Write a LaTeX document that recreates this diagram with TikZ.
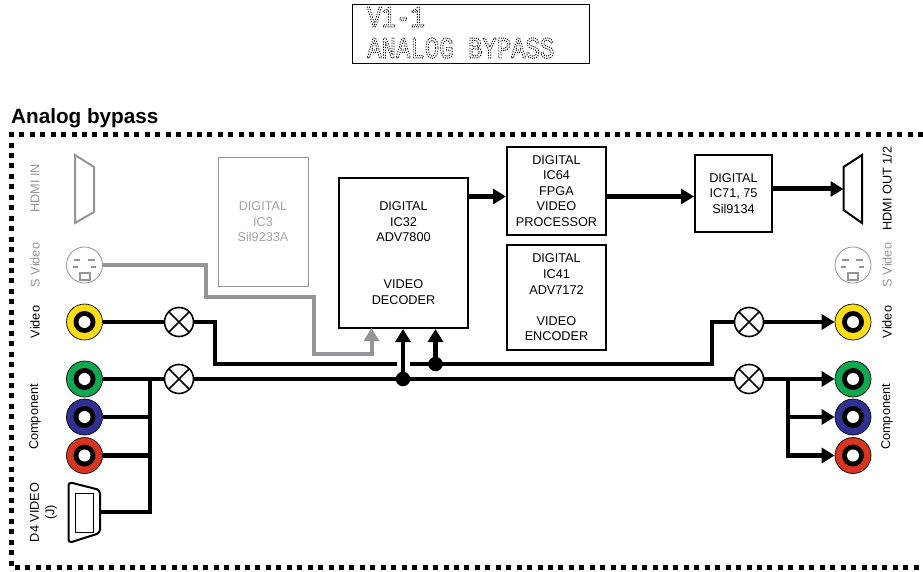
\documentclass[tikz,border=0pt]{standalone}
\usepackage{fontspec}
\usepackage{xcolor}
\usepackage{tikz}
\usetikzlibrary{arrows.meta}
\setmainfont{Liberation Sans}
\newfontfamily\lcdfont{Liberation Mono}
\definecolor{offgray}{HTML}{939598}
\definecolor{jackyellow}{HTML}{FFDD15}
\definecolor{jackgreen}{HTML}{0DA84F}
\definecolor{jackblue}{HTML}{2E3192}
\definecolor{jackred}{HTML}{D9341F}
\tikzset{
  boxtext/.style={font=\fontsize{12.7}{15.6}\selectfont,align=center},
  block/.style={draw,line width=2,boxtext,inner sep=0},
  offblock/.style={draw=offgray,line width=1,boxtext,text=offgray!85,inner sep=0},
  sideLabel/.style={rotate=90,boxtext},
  lcdline/.style={anchor=base west,inner sep=0,yscale=1.25,font=\lcdfont\fontsize{24}{24}\selectfont},
  sigline/.style={line width=4.3},
  sigarrow/.style={line width=4.3,-{Triangle[length=13,width=15]}},
  offarrow/.style={line width=4,draw=offgray,-{Triangle[length=13,width=15,fill=offgray]}},
  joint/.style={circle,fill=black,inner sep=0,minimum size=14.5},
  xing/.style={circle,draw,line width=1.6,fill=white,inner sep=0,minimum size=29,
    path picture={\draw[line width=1.6] (path picture bounding box.north west)--(path picture bounding box.south east)
      (path picture bounding box.north east)--(path picture bounding box.south west);}},
}
\newcommand{\lcdtext}[1]{\special{pdf:literal q 1 Tr 0.8 w [1 1.1] 0 d 0 G}#1\special{pdf:literal Q}}
\newcommand{\jack}[4]{%
  \node[circle,draw,line width=0.7,fill=#4,inner sep=0,minimum size=36] (#1) at (#2,#3) {};
  \node[circle,fill=black,inner sep=0,minimum size=22] at (#2,#3) {};
  \node[circle,fill=white,inner sep=0,minimum size=12] at (#2,#3) {};
}
\newcommand{\svideo}[3]{%
  \node[circle,draw=offgray,line width=0.8,inner sep=0,minimum size=36] (#1) at (#2,#3) {};
  \begin{scope}[shift={(#2,#3)},draw=offgray,line width=2]
    \draw (-11,-5)--(-4.5,-5);
    \draw (3,-5)--(10,-5);
    \draw (-12,2)--(-7,2);
    \draw (6,2)--(11,2);
    \draw (-5,7.5) rectangle (5,15);
  \end{scope}
}
\begin{document}
\begin{tikzpicture}[x=1pt,y=-1pt]
  \useasboundingbox (0,0) rectangle (923,572);
  % front panel display
  \node[draw,line width=0.8,minimum width=237,minimum height=59,inner sep=0] (lcd) at (470.5,34) {};
  \node[lcdline] (lcda) at (367,27) {\lcdtext{V1-1}};
  \node[lcdline] (lcdb) at (367,58) {\lcdtext{ANALOG BYPASS}};
  % frame
  \node[anchor=base west,inner sep=0,font=\bfseries\fontsize{20.7}{24}\selectfont] (title) at (11,124) {Analog bypass};
  \draw[line width=5,dash pattern=on 5pt off 5.45pt] (923,135)--(11,135)--(11,567)--(923,567);
  % blocks
  \node[offblock,minimum width=90,minimum height=128] (hdcp) at (263,222) {DIGITAL\\IC3\\Sil9233A};
  \node[block,minimum width=129,minimum height=150] (dec) at (403.5,253) {DIGITAL\\IC32\\ADV7800\\ \\ \\VIDEO\\DECODER};
  \node[block,minimum width=99,minimum height=87] (fpga) at (556.5,191) {DIGITAL\\IC64\\FPGA\\VIDEO\\PROCESSOR};
  \node[block,minimum width=99,minimum height=105] (enc) at (556.5,297.5) {DIGITAL\\IC41\\ADV7172\\ \\VIDEO\\ENCODER};
  \node[block,minimum width=77,minimum height=77] (hdtx) at (733.5,193.5) {DIGITAL\\IC71, 75\\Sil9134};
  % connectors on the panels
  \draw[offgray,line width=2] (75,155)--(94,167)--(94,212)--(75,223)--cycle;
  \coordinate (hdmiout) at (843.5,189);
  \draw[line width=2,fill=white] (hdmiout |- 0,167)--(862,155)--(862,223)--(hdmiout |- 0,210)--cycle;
  \coordinate (d4) at (100,512);
  \draw[line width=2,rounded corners=3.5] (68.5,482)--(100,490)--(100,533)--(68.5,543)--cycle;
  \draw[line width=0.6] (75,493) rectangle (93,532);
  \svideo{svl}{84.5}{265}
  \svideo{svr}{853}{265}
  \jack{yl}{84.5}{322}{jackyellow}
  \jack{gl}{84.5}{379}{jackgreen}
  \jack{bl}{84.5}{417}{jackblue}
  \jack{rl}{84.5}{455.5}{jackred}
  \jack{yr}{853}{322}{jackyellow}
  \jack{gr}{853}{379}{jackgreen}
  \jack{br}{853}{417}{jackblue}
  \jack{rr}{853}{455.5}{jackred}
  % labels
  \node[sideLabel,text=offgray] at (35,188.5) {HDMI IN};
  \node[sideLabel,text=offgray] at (35,265) {S Video};
  \node[sideLabel] at (35,322) {Video};
  \node[sideLabel] at (35,417) {Component};
  \node[sideLabel] at (43.5,512.5) {D4 VIDEO\\(J)};
  \node[sideLabel] at (887,188.5) {HDMI OUT 1/2};
  \node[sideLabel,text=offgray] at (887,265) {S Video};
  \node[sideLabel] at (887,322) {Video};
  \node[sideLabel] at (887,417) {Component};
  % switches
  \node[xing] (xa) at (179,322) {};
  \node[xing] (xb) at (179,379) {};
  \node[xing] (xc) at (749,322) {};
  \node[xing] (xd) at (749,379) {};
  % signal paths
  \coordinate (vleft) at (215,364);
  \coordinate (gapl) at (397,364);
  \coordinate (gapr) at (410,364);
  \coordinate (vright) at (712,364);
  \coordinate (busl) at (150,379);
  \coordinate (busr) at (788,379);
  \draw[sigline] (yl)--(xa);
  \draw[sigline] (xa)-|(vleft)--(gapl);
  \draw[sigline] (gapr)--(vright)|-(xc);
  \draw[sigarrow] (xc)--(yr);
  \draw[sigline] (gl)--(xb);
  \draw[sigline] (xb)--(xd);
  \draw[sigarrow] (xd)--(gr);
  \draw[sigline] (bl)--(busl |- bl);
  \draw[sigline] (rl)--(busl |- rl);
  \draw[sigline] (d4)-|(busl);
  \draw[sigarrow] (busr)|-(br);
  \draw[sigarrow] (busr)|-(rr);
  \node[joint] (ja) at (403,379) {};
  \node[joint] (jb) at (435.5,364) {};
  \draw[sigarrow] (ja)--(ja |- dec.south);
  \draw[sigarrow] (jb)--(jb |- dec.south);
  \coordinate (graydec) at (371.5,328);
  \draw[offarrow] (svl)-|(206,296.5)-|(314,354)-|(graydec);
  \coordinate (ab) at (dec.east |- 0,196.5);
  \draw[sigarrow] (ab)--(ab -| fpga.west);
  \coordinate (bc) at (fpga.east |- 0,196.5);
  \draw[sigarrow] (bc)--(bc -| hdtx.west);
  \draw[sigarrow,line width=5] (hdtx.east |- hdmiout)--(hdmiout);
\end{tikzpicture}
\end{document}
